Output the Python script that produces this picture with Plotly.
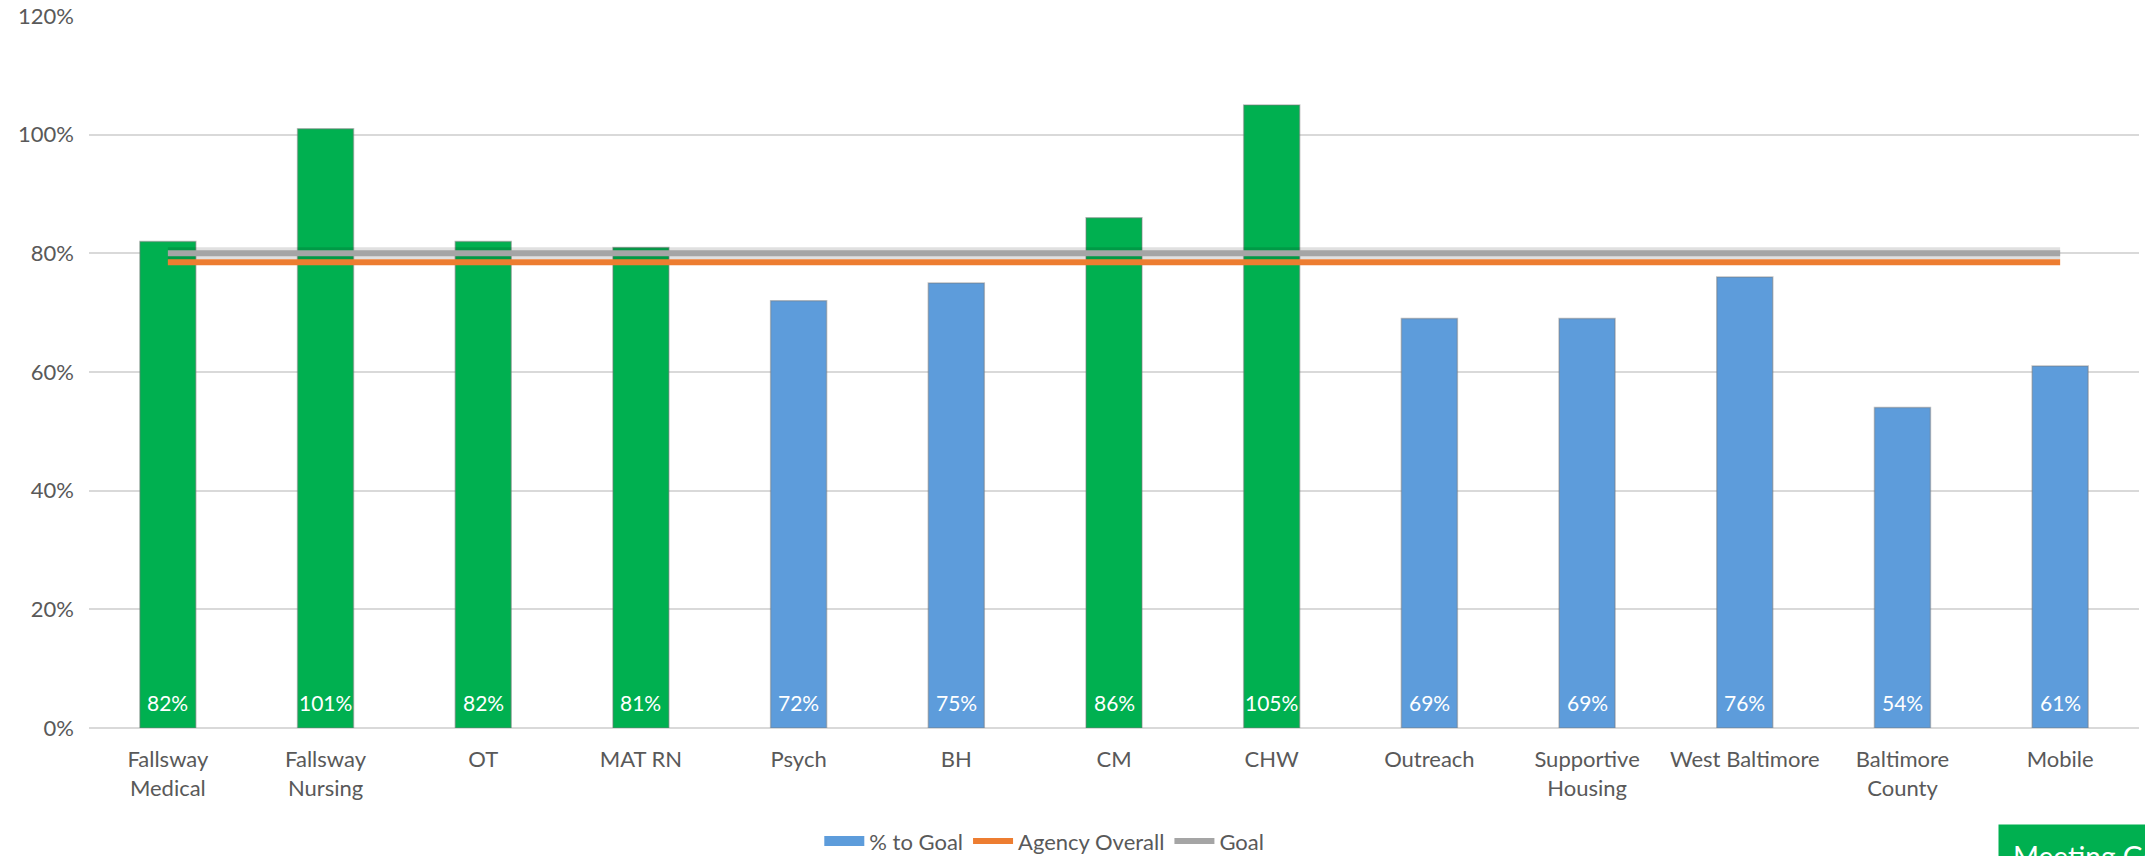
import plotly.graph_objects as go

categories = ["Fallsway<br>Medical", "Fallsway<br>Nursing", "OT", "MAT RN", "Psych", "BH", "CM", "CHW",
              "Outreach", "Supportive<br>Housing", "West Baltimore", "Baltimore<br>County", "Mobile"]
pct_to_goal = [82, 101, 82, 81, 72, 75, 86, 105, 69, 69, 76, 54, 61]
agency_overall = [78.5] * len(categories)
goal = [80] * len(categories)
y_ticks = [0, 20, 40, 60, 80, 100, 120]

GREEN = "#00B050"
BLUE = "#5D9CDB"
FONT = "Lato"
GRAY_TXT = "#595959"

below = [v if v < g else None for v, g in zip(pct_to_goal, goal)]
meeting = [v if v >= g else None for v, g in zip(pct_to_goal, goal)]

fig = go.Figure()
# legend swatch for the bars (wide rectangle like the reference)
fig.add_trace(go.Scatter(x=[categories[0]], y=[None], mode="lines", name="% to Goal",
                         line=dict(color=BLUE, width=14), hoverinfo="skip"))
fig.add_trace(go.Bar(
    x=categories, y=below, name="% to Goal", showlegend=False,
    marker=dict(color=BLUE, line=dict(color="rgba(120,120,120,0.45)", width=1.5)),
    width=0.355, hoverinfo="skip"))
fig.add_trace(go.Bar(
    x=categories, y=meeting, name="Meeting Goal", showlegend=False,
    marker=dict(color=GREEN, line=dict(color="rgba(120,120,120,0.45)", width=1.5)),
    width=0.355, hoverinfo="skip"))
# soft shadow under the lines
fig.add_trace(go.Scatter(x=categories, y=goal, mode="lines", showlegend=False,
                         line=dict(color="rgba(0,0,0,0.12)", width=12), hoverinfo="skip"))
fig.add_trace(go.Scatter(x=categories, y=agency_overall, mode="lines", name="Agency Overall",
                         line=dict(color="#ED7D31", width=6)))
fig.add_trace(go.Scatter(x=categories, y=goal, mode="lines", name="Goal",
                         line=dict(color="#A5A5A5", width=6)))

# value labels at the base of each bar
annotations = [dict(x=c, y=0, xref="x", yref="y", text=f"{v}%", showarrow=False,
                    yanchor="middle", yshift=26, font=dict(color="white", size=21, family=FONT))
               for c, v in zip(categories, pct_to_goal)]
annotations.append(dict(text="Meeting Goal", xref="paper", yref="paper", x=0.931, y=-0.135,
                        xanchor="left", yanchor="top", showarrow=False, bgcolor=GREEN,
                        font=dict(color="white", size=28, family=FONT), borderpad=14))

fig.update_layout(
    width=2145, height=856,
    margin=dict(l=89, r=6, t=16, b=128, autoexpand=False),
    paper_bgcolor="white", plot_bgcolor="white",
    barmode="overlay",
    font=dict(family=FONT, size=22, color=GRAY_TXT),
    showlegend=True,
    legend=dict(orientation="h", x=0.466, xanchor="center", y=-0.159, yanchor="middle",
                font=dict(size=22, color=GRAY_TXT), traceorder="normal", itemwidth=40,
                bgcolor="rgba(0,0,0,0)"),
    xaxis=dict(showgrid=False, tickfont=dict(size=22, color=GRAY_TXT), showline=False, ticks="",
               ticklabelstandoff=16),
    yaxis=dict(range=[0, 120], tickvals=y_ticks, ticktext=[f"{t}%" for t in y_ticks],
               showgrid=True, gridcolor="#D9D9D9", gridwidth=1.5, zeroline=True, zerolinecolor="#D9D9D9",
               zerolinewidth=2, tickfont=dict(size=22, color=GRAY_TXT), ticks="", ticklabelstandoff=14),
    annotations=annotations,
)
fig.write_html("out.html")
